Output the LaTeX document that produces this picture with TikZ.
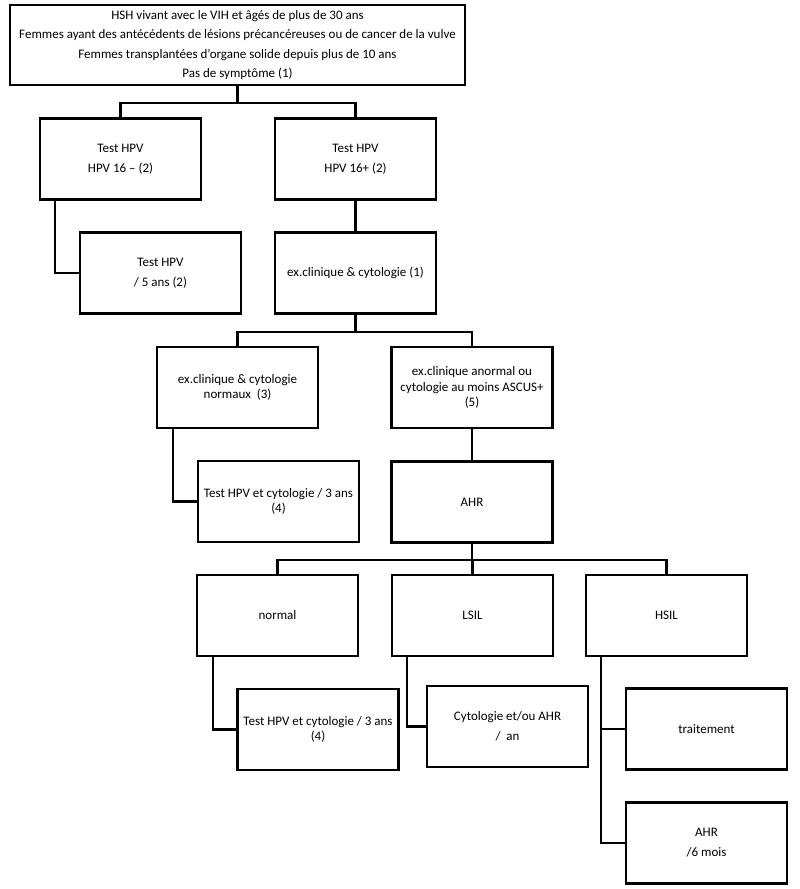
\documentclass[tikz,border=0pt]{standalone}
\usepackage{fontspec}
\setmainfont{Carlito}
\begin{document}
\begin{tikzpicture}[x=1pt,y=-1pt,
  box/.style={draw=black,line width=2.4pt,minimum width=161pt,minimum height=81pt,inner sep=0pt,align=center,font=\fontsize{13}{15.5}\selectfont},
  wide/.style={font=\fontsize{13}{20}\selectfont},
  conn/.style={draw=black,line width=2.1pt}]
\useasboundingbox (0,0) rectangle (800,889);
\fill[white] (0,0) rectangle (800,889);

\node[box,wide,minimum width=455pt,minimum height=80pt,font=\fontsize{13}{19.5}\selectfont] (top) at (237.5,45)
  {HSH vivant avec le VIH et âgés de plus de 30 ans\\Femmes ayant des antécédents de lésions précancéreuses ou de cancer de la vulve\\Femmes transplantées d’organe solide depuis plus de 10 ans\\Pas de symptôme (1)};

\node[box,wide] (A) at (120.5,159) {Test HPV\\HPV 16 – (2)};
\node[box,wide] (B) at (355.5,159) {Test HPV\\HPV 16+ (2)};
\node[box,wide] (C) at (160.5,273) {Test HPV\\/ 5 ans (2)};
\node[box] (D) at (355.5,273) {ex.clinique \& cytologie (1)};
\node[box] (E) at (237.5,387.5) {ex.clinique \& cytologie\\normaux~ (3)};
\node[box] (F) at (472,387.5) {ex.clinique anormal ou\\cytologie au moins ASCUS+\\(5)};
\node[box] (G) at (278.5,501.5) {Test HPV et cytologie / 3 ans\\(4)};
\node[box] (H) at (472,502) {AHR};
\node[box] (nor) at (277.5,615.5) {normal};
\node[box] (lsil) at (472.5,615.5) {LSIL};
\node[box] (hsil) at (666.5,615.5) {HSIL};
\node[box] (nor2) at (318,729.5) {Test HPV et cytologie / 3 ans\\(4)};
\node[box,wide] (lsil2) at (507.5,726.5) {Cytologie et/ou AHR\\/~ an};
\node[box] (trait) at (706.5,729) {traitement};
\node[box,wide] (ahr6) at (706.5,843) {AHR\\/6 mois};

\draw[conn] (top.south) -- ++(0,17) -| (A.north);
\draw[conn] (top.south) -- ++(0,17) -| (B.north);
\draw[conn] ([xshift=16pt]A.south west) |- (C.west);
\draw[conn] (B.south) -- (D.north);
\draw[conn] (D.south) -- ++(0,17) -| (E.north);
\draw[conn] (D.south) -- ++(0,17) -| (F.north);
\draw[conn] ([xshift=17pt]E.south west) |- (G.west);
\draw[conn] (F.south) -- (H.north);
\draw[conn] (H.south) -- ++(0,16.5) -| (nor.north);
\draw[conn] (H.south) -- ++(0,16.5) -| (lsil.north);
\draw[conn] (H.south) -- ++(0,16.5) -| (hsil.north);
\draw[conn] ([xshift=17pt]nor.south west) |- (nor2.west);
\draw[conn] ([xshift=16pt]lsil.south west) |- (lsil2.west);
\draw[conn] ([xshift=16pt]hsil.south west) |- (trait.west);
\draw[conn] ([xshift=16pt]hsil.south west) |- (ahr6.west);
\end{tikzpicture}
\end{document}
